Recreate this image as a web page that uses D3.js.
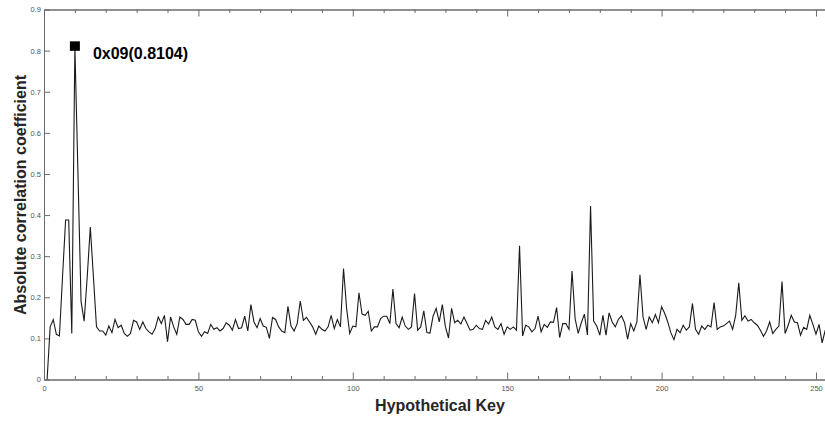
<!DOCTYPE html>
<html>
<head>
<meta charset="utf-8">
<script src="https://cdn.jsdelivr.net/npm/d3@7"></script>
<style>
  html, body { margin: 0; padding: 0; background: #fff; }
  svg { display: block; font-family: "Liberation Sans", Arial, Helvetica, sans-serif; }
</style>
</head>
<body>
<svg id="chart" width="825" height="422"></svg>
<script>
// Absolute correlation coefficient for each hypothetical key byte (keys 0x00.. plotted at x = 1..)
const correlation = [
  0.000, 0.128, 0.146, 0.110, 0.106, 0.250, 0.388, 0.388, 0.112, 0.8104,
  0.500, 0.190, 0.142, 0.250, 0.371, 0.250, 0.128, 0.118, 0.118, 0.108,
  0.130, 0.114, 0.146, 0.126, 0.132, 0.112, 0.105, 0.112, 0.144, 0.140,
  0.122, 0.140, 0.124, 0.116, 0.110, 0.124, 0.152, 0.136, 0.156, 0.092,
  0.152, 0.128, 0.110, 0.152, 0.146, 0.134, 0.134, 0.146, 0.144, 0.116,
  0.105, 0.116, 0.112, 0.134, 0.122, 0.126, 0.118, 0.124, 0.138, 0.132,
  0.120, 0.146, 0.124, 0.126, 0.154, 0.118, 0.182, 0.140, 0.126, 0.148,
  0.130, 0.127, 0.100, 0.151, 0.146, 0.128, 0.118, 0.114, 0.178, 0.130,
  0.118, 0.136, 0.191, 0.144, 0.151, 0.140, 0.128, 0.110, 0.130, 0.122,
  0.118, 0.128, 0.156, 0.124, 0.146, 0.128, 0.270, 0.173, 0.112, 0.130,
  0.128, 0.211, 0.159, 0.156, 0.166, 0.118, 0.128, 0.128, 0.148, 0.154,
  0.154, 0.136, 0.220, 0.136, 0.126, 0.152, 0.130, 0.122, 0.128, 0.209,
  0.120, 0.128, 0.167, 0.114, 0.113, 0.154, 0.173, 0.140, 0.182, 0.128,
  0.101, 0.173, 0.138, 0.144, 0.135, 0.152, 0.136, 0.120, 0.122, 0.132,
  0.124, 0.122, 0.144, 0.135, 0.152, 0.128, 0.122, 0.136, 0.110, 0.128,
  0.122, 0.128, 0.120, 0.325, 0.106, 0.132, 0.128, 0.116, 0.124, 0.154,
  0.116, 0.134, 0.127, 0.140, 0.139, 0.175, 0.102, 0.136, 0.136, 0.122,
  0.264, 0.148, 0.112, 0.138, 0.159, 0.108, 0.422, 0.142, 0.130, 0.108,
  0.156, 0.108, 0.162, 0.140, 0.128, 0.146, 0.155, 0.138, 0.098, 0.136,
  0.118, 0.140, 0.255, 0.152, 0.122, 0.152, 0.138, 0.158, 0.138, 0.177,
  0.161, 0.140, 0.114, 0.097, 0.122, 0.114, 0.132, 0.120, 0.128, 0.185,
  0.122, 0.110, 0.130, 0.122, 0.132, 0.128, 0.187, 0.122, 0.128, 0.130,
  0.136, 0.142, 0.122, 0.156, 0.235, 0.144, 0.155, 0.142, 0.146, 0.138,
  0.132, 0.120, 0.105, 0.118, 0.140, 0.112, 0.122, 0.130, 0.238, 0.112,
  0.132, 0.156, 0.140, 0.138, 0.108, 0.127, 0.122, 0.156, 0.134, 0.110,
  0.134, 0.089, 0.120
];
const xMajorTicks = [0, 50, 100, 150, 200, 250];
const xMinorTicks = [10, 20, 30, 40, 60, 70, 80, 90, 110, 120, 130, 140, 160, 170, 180, 190, 210, 220, 230, 240];
const yTicks = [0, 0.1, 0.2, 0.3, 0.4, 0.5, 0.6, 0.7, 0.8, 0.9];
const peakKey = 9;          // 0x09
const peakValue = 0.8104;
const peakLabel = "0x09(0.8104)";
const xTitle = "Hypothetical Key";
const yTitle = "Absolute correlation coefficient";

(function draw() {
  const svg = d3.select("#chart");
  const W = 825, H = 422;
  svg.append("rect").attr("width", W).attr("height", H).attr("fill", "#fff");

  const plotLeft = 44, plotTop = 9.5, plotBottom = 379.5, plotRight = 834.5;
  const x = d3.scaleLinear().domain([0, 256]).range([plotLeft, plotRight]);
  const y = d3.scaleLinear().domain([0, 0.9]).range([plotBottom, plotTop]);

  const axisColor = "#6a6a6a";
  const labelColor = "#555";

  function styleAxis(g) {
    g.selectAll(".domain").attr("stroke", axisColor).attr("stroke-width", 1);
    g.selectAll(".tick line").attr("stroke", axisColor).attr("stroke-width", 1);
    g.selectAll(".tick text").attr("fill", labelColor).attr("font-size", 7.5)
      .attr("font-family", "'Liberation Sans', Arial, sans-serif");
  }

  // bottom axis: major ticks with labels, minor ticks every 10
  svg.append("g").attr("transform", `translate(0,${plotBottom})`)
    .call(d3.axisBottom(x).tickValues(xMajorTicks).tickSizeInner(-7).tickSizeOuter(0).tickPadding(6.5).tickFormat(d3.format("d")))
    .call(styleAxis);
  svg.append("g").attr("transform", `translate(0,${plotBottom})`)
    .call(d3.axisBottom(x).tickValues(xMinorTicks).tickSizeInner(-3.5).tickSizeOuter(0).tickFormat(""))
    .call(styleAxis);

  // top edge of the box, ticks pointing inward
  svg.append("g").attr("transform", `translate(0,${plotTop})`)
    .call(d3.axisTop(x).tickValues(xMajorTicks).tickSizeInner(-7).tickSizeOuter(0).tickFormat(""))
    .call(styleAxis);
  svg.append("g").attr("transform", `translate(0,${plotTop})`)
    .call(d3.axisTop(x).tickValues(xMinorTicks).tickSizeInner(-3.5).tickSizeOuter(0).tickFormat(""))
    .call(styleAxis);

  // left axis
  svg.append("g").attr("transform", `translate(${plotLeft},0)`)
    .call(d3.axisLeft(y).tickValues(yTicks).tickSizeInner(-6).tickSizeOuter(0).tickPadding(3)
      .tickFormat(d => d === 0 ? "0" : d3.format(".1f")(d)))
    .call(styleAxis);

  // correlation trace
  svg.append("clipPath").attr("id", "plot-clip")
    .append("rect").attr("x", plotLeft).attr("y", plotTop - 12)
    .attr("width", plotRight - plotLeft).attr("height", plotBottom - plotTop + 12);

  const line = d3.line()
    .x((d, i) => x(i + 1))
    .y(d => y(d));

  svg.append("path")
    .datum(correlation)
    .attr("clip-path", "url(#plot-clip)")
    .attr("fill", "none")
    .attr("stroke", "#1a1a1a")
    .attr("stroke-width", 1.1)
    .attr("stroke-linejoin", "miter")
    .attr("d", line);

  // highlighted peak
  const px = x(peakKey + 1), py = y(peakValue);
  svg.append("rect")
    .attr("x", px - 5).attr("y", py - 5)
    .attr("width", 10).attr("height", 9.5)
    .attr("fill", "#000");
  svg.append("text")
    .attr("x", px + 18).attr("y", py + 13)
    .attr("font-size", 16).attr("font-weight", "bold").attr("fill", "#000")
    .text(peakLabel);

  // axis titles
  svg.append("text")
    .attr("x", 440).attr("y", 411)
    .attr("text-anchor", "middle")
    .attr("font-size", 16).attr("font-weight", "bold").attr("fill", "#262626")
    .text(xTitle);
  svg.append("text")
    .attr("transform", "translate(26,195) rotate(-90)")
    .attr("text-anchor", "middle")
    .attr("font-size", 16).attr("font-weight", "bold").attr("fill", "#262626")
    .text(yTitle);
})();
</script>
</body>
</html>
